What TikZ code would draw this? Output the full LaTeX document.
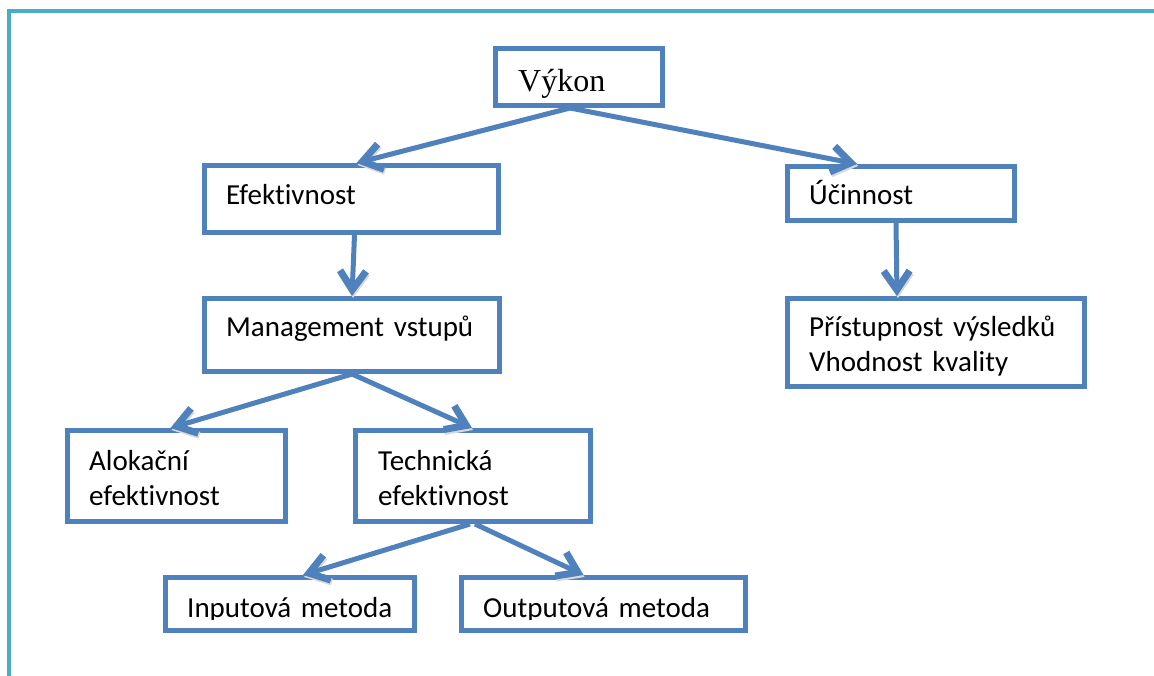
\documentclass[tikz,border=0pt]{standalone}
\usepackage{fontspec}
\setmainfont{Carlito}[Ligatures=NoCommon]
\newfontfamily\vykonfont{Liberation Serif}
\usetikzlibrary{arrows.meta}
\usetikzlibrary{calc}
\usetikzlibrary{positioning}
\definecolor{boxblue}{HTML}{4F81BD}
\definecolor{frameaqua}{HTML}{4BACC6}

\begin{document}
\begin{tikzpicture}[
	x=1pt, y=-1pt,
	box/.style = {draw=boxblue, line width=5pt, inner sep=0pt},
	txt/.style = {anchor=base west, inner sep=0pt, text width=290pt, align=left, font=\fontsize{29}{35}\selectfont},
	link/.style = {-{Straight Barb[length=19pt,width=26pt,line width=7pt]}, draw=boxblue, line width=5pt, preaction={draw=black!15, transform canvas={shift={(1pt,-2pt)}}}},
	frame/.style = {draw=frameaqua, line width=4pt}
  ]
	\useasboundingbox (0,0) rectangle (1154,676);
	\draw[frame] (1154,11) -| (9,676);

	\node[box, minimum width=167, minimum height=57] (vykon) at (579,77) {};
	\node[box, minimum width=294, minimum height=67] (efekt) at (351.5,199) {};
	\node[box, minimum width=227, minimum height=54] (ucin) at (901,193.5) {};
	\node[box, minimum width=295, minimum height=73] (mgmt) at (352,335) {};
	\node[box, minimum width=297, minimum height=88] (prist) at (936,342.5) {};
	\node[box, minimum width=218, minimum height=91] (alok) at (176.5,476) {};
	\node[box, minimum width=235, minimum height=91] (tech) at (473,476) {};
	\node[box, minimum width=249, minimum height=53] (input) at (290,604) {};
	\node[box, minimum width=284, minimum height=53] (output) at (603.5,604) {};

	\node[anchor=base west, inner sep=0pt, font=\vykonfont\fontsize{32}{38}\selectfont] (vykon-t) at ([shift={(25,46)}]vykon.north west) {Výkon};
	\node[txt] (efekt-t) at ([shift={(24,42)}]efekt.north west) {Efektivnost};
	\node[txt] (ucin-t) at ([shift={(24,41)}]ucin.north west) {Účinnost};
	\node[txt] (mgmt-t) at ([shift={(24,41)}]mgmt.north west) {Management vstupů};
	\node[txt] (prist-t) at ([shift={(24,41)}]prist.north west) {Přístupnost výsledků\\Vhodnost kvality};
	\node[txt] (alok-t) at ([shift={(24,42)}]alok.north west) {Alokační\\efektivnost};
	\node[txt] (tech-t) at ([shift={(25,42)}]tech.north west) {Technická\\efektivnost};
	\begin{scope}
		\clip (input.north west) rectangle ($(output.east)+(0,15)$);
		\node[txt] (input-t) at ([shift={(24,42)}]input.north west) {Inputová metoda};
		\node[txt] (output-t) at ([shift={(24,42)}]output.north west) {Outputová metoda};
	\end{scope}

	\draw[link] ([xshift=-9]vykon.south) to ([xshift=5]efekt.north);
	\draw[link] ([xshift=-9]vykon.south) to ([xshift=-44]ucin.north);
	\draw[link] ([xshift=3]efekt.south) to (mgmt.north);
	\draw[link] ([xshift=-5]ucin.south) to ([xshift=-39]prist.north);
	\draw[link] (mgmt.south) to ([xshift=-6]alok.north);
	\draw[link] (mgmt.south) to ([xshift=-1]tech.north);
	\draw[link] ([xshift=-3]tech.south) to ([xshift=13]input.north);
	\draw[link] ([xshift=2]tech.south) to ([xshift=-20]output.north);

\end{tikzpicture}
\end{document}
